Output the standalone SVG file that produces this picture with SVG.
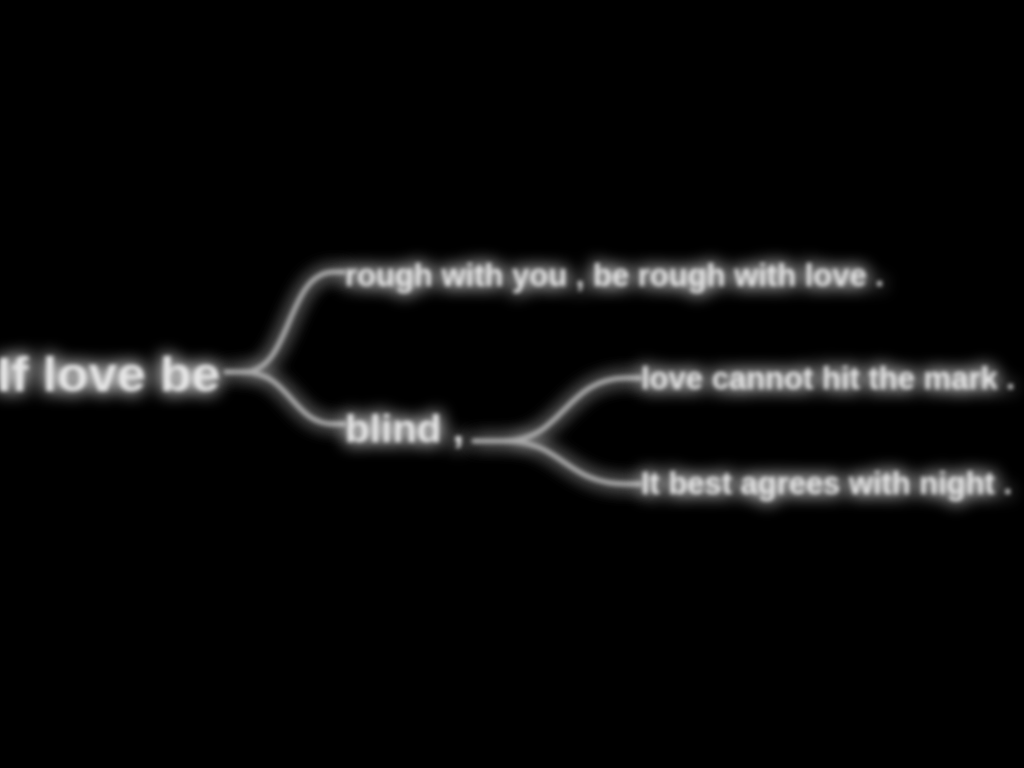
<svg xmlns="http://www.w3.org/2000/svg" width="1024" height="768" viewBox="0 0 1024 768">
  <defs>
    <filter id="glow" x="-30%" y="-100%" width="160%" height="300%">
      <feGaussianBlur in="SourceGraphic" stdDeviation="9" result="wide"/>
      <feGaussianBlur in="SourceGraphic" stdDeviation="2.3" result="soft"/>
      <feMerge>
        <feMergeNode in="wide"/>
        <feMergeNode in="wide"/>
        <feMergeNode in="soft"/>
      </feMerge>
    </filter>
    <style>
      .lbl { font-family: "Liberation Sans", Arial, sans-serif; font-weight: bold; fill: #e6e6e6; }
      .edge { fill: none; stroke: #a8a8a8; stroke-width: 5; stroke-linecap: round; }
    </style>
  </defs>
  <rect x="0" y="0" width="1024" height="768" fill="#000"/>
  <g id="connectors" filter="url(#glow)">
    <path class="edge" d="M 226 372 L 244 372 C 292 372, 286 272, 334 272 L 344 272"/>
    <path class="edge" d="M 244 372 C 290 372, 292 424, 334 424 L 344 424"/>
    <path class="edge" d="M 474 441 L 506 441 C 562 441, 566 378, 626 378 L 640 378"/>
    <path class="edge" d="M 506 441 C 562 441, 566 484, 626 484 L 640 484"/>
  </g>
  <g id="node-root" filter="url(#glow)">
    <text class="lbl" x="-3" y="391" font-size="48" textLength="223" lengthAdjust="spacingAndGlyphs">If love be</text>
  </g>
  <g id="node-rough" filter="url(#glow)">
    <text class="lbl" x="345" y="286" font-size="31" textLength="539" lengthAdjust="spacingAndGlyphs">rough with you , be rough with love .</text>
  </g>
  <g id="node-blind" filter="url(#glow)">
    <text class="lbl" x="345" y="442" font-size="39" textLength="119" lengthAdjust="spacingAndGlyphs">blind ,</text>
  </g>
  <g id="node-mark" filter="url(#glow)">
    <text class="lbl" x="641" y="389" font-size="31" textLength="374" lengthAdjust="spacingAndGlyphs">love cannot hit the mark .</text>
  </g>
  <g id="node-night" filter="url(#glow)">
    <text class="lbl" x="641" y="494" font-size="31" textLength="371" lengthAdjust="spacingAndGlyphs">It best agrees with night .</text>
  </g>
</svg>
